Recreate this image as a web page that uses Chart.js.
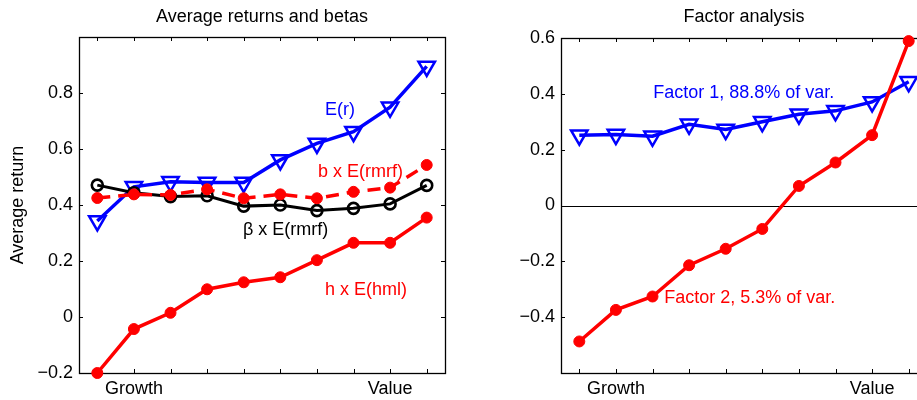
<!DOCTYPE html>
<html>
<head>
<meta charset="utf-8">
<script src="https://cdn.jsdelivr.net/npm/chart.js@4.4.1/dist/chart.umd.min.js"></script>
<style>
  html, body { margin: 0; padding: 0; background: #fff; overflow: hidden; width: 917px; height: 400px; }
  #wrapL { position: absolute; left: 0; top: 0; width: 460px; height: 400px; }
  #wrapR { position: absolute; left: 460px; top: 0; width: 480px; height: 400px; }
</style>
</head>
<body>
<div id="wrapL"><canvas id="chartLeft" width="460" height="400"></canvas></div>
<div id="wrapR"><canvas id="chartRight" width="480" height="400"></canvas></div>
<script>
// portfolios, growth -> value
const portfolios = [1, 2, 3, 4, 5, 6, 7, 8, 9, 10];
const xLabels = ['', 'Growth', '', '', '', '', '', '', 'Value', ''];

// left panel: average returns and betas
const expRet   = [0.343, 0.465, 0.483, 0.480, 0.480, 0.561, 0.620, 0.662, 0.749, 0.895];
const bRmrf    = [0.425, 0.438, 0.436, 0.456, 0.424, 0.438, 0.424, 0.447, 0.462, 0.543];
const betaRmrf = [0.471, 0.444, 0.430, 0.433, 0.396, 0.400, 0.380, 0.388, 0.404, 0.470];
const hHml     = [-0.200, -0.043, 0.015, 0.099, 0.124, 0.142, 0.203, 0.265, 0.265, 0.355];

// right panel: factor analysis
const factor1 = [0.252, 0.254, 0.248, 0.291, 0.272, 0.300, 0.327, 0.339, 0.371, 0.443];
const factor2 = [-0.487, -0.374, -0.326, -0.214, -0.155, -0.084, 0.070, 0.154, 0.252, 0.589];

const leftYTicks  = [-0.2, 0, 0.2, 0.4, 0.6, 0.8];
const rightYTicks = [-0.4, -0.2, 0, 0.2, 0.4, 0.6];

const FONT = 'Liberation Sans, Arial, Helvetica, sans-serif';
const BLUE = '#0000ff', RED = '#ff0000', BLACK = '#000000';

Chart.defaults.font.family = FONT;
Chart.defaults.font.size = 18;
Chart.defaults.color = BLACK;

function pts(values) {
    return portfolios.map((x, i) => ({ x: x, y: values[i] }));
}

function fmtTick(v) {
    if (Math.abs(v) < 1e-9) return '0';
    return (v < 0 ? '\u2212' : '') + Math.abs(v).toFixed(1);
}

// matlab style box, inward ticks on every side, text labels in data coords
const matlabAxes = {
    id: 'matlabAxes',
    beforeDatasetsDraw(chart, args, opts) {
        const { ctx, chartArea: a, scales: { x, y } } = chart;
        const t = 4;
        ctx.save();
        ctx.strokeStyle = BLACK;
        ctx.lineWidth = 1;
        ctx.beginPath();
        if (opts.zeroLine) {
            const py = Math.round(y.getPixelForValue(0)) + 0.5;
            ctx.moveTo(a.left, py); ctx.lineTo(a.right, py);
        }
        x.ticks.forEach(tk => {
            const px = Math.round(x.getPixelForValue(tk.value)) + 0.5;
            ctx.moveTo(px, a.bottom); ctx.lineTo(px, a.bottom - t);
            ctx.moveTo(px, a.top); ctx.lineTo(px, a.top + t);
        });
        y.ticks.forEach(tk => {
            const py = Math.round(y.getPixelForValue(tk.value)) + 0.5;
            ctx.moveTo(a.left, py); ctx.lineTo(a.left + t, py);
            ctx.moveTo(a.right, py); ctx.lineTo(a.right - t, py);
        });
        ctx.stroke();
        ctx.lineWidth = 1.3;
        ctx.strokeRect(Math.round(a.left) + 0.5, Math.round(a.top) + 0.5, Math.round(a.width), Math.round(a.height));
        ctx.restore();
    },
    afterDatasetsDraw(chart, args, opts) {
        const { ctx, scales: { x, y } } = chart;
        ctx.save();
        ctx.font = '18px ' + FONT;
        ctx.textAlign = 'left';
        ctx.textBaseline = 'middle';
        (opts.notes || []).forEach(n => {
            ctx.fillStyle = n.color;
            ctx.fillText(n.text, x.getPixelForValue(n.x), y.getPixelForValue(n.y));
        });
        ctx.restore();
    }
};

function panelOptions(cfg) {
    return {
        responsive: false,
        animation: false,
        events: [],
        layout: { padding: { left: 0, right: cfg.rightPad, top: 0, bottom: 0 } },
        plugins: {
            legend: { display: false },
            tooltip: { enabled: false },
            title: {
                display: true, text: cfg.title, fullSize: false, color: BLACK,
                font: { size: 18, weight: 'normal' },
                padding: { top: 6, bottom: cfg.titleGap }
            },
            matlabAxes: { notes: cfg.notes, zeroLine: cfg.zeroLine }
        },
        scales: {
            x: {
                type: 'linear', min: 0.5, max: 10.5,
                afterBuildTicks: s => { s.ticks = portfolios.map(v => ({ value: v })); },
                afterFit: s => { s.height = 27; },
                ticks: {
                    autoSkip: false, maxRotation: 0, padding: 5,
                    callback: v => xLabels[portfolios.indexOf(v)] || ''
                },
                grid: { display: false, drawTicks: false },
                border: { display: false }
            },
            y: {
                type: 'linear', min: cfg.yMin, max: cfg.yMax,
                afterBuildTicks: s => { s.ticks = cfg.yTicks.map(v => ({ value: v })); },
                afterFit: s => { s.width = cfg.yWidth; },
                ticks: { padding: 6, callback: v => fmtTick(v) },
                grid: { display: false, drawTicks: false },
                border: { display: false },
                title: cfg.yTitle ? {
                    display: true, text: cfg.yTitle, color: BLACK,
                    font: { size: 18 }, padding: { top: 7, bottom: 0 }
                } : { display: false }
            }
        }
    };
}

const lineBase = { tension: 0, borderWidth: 3.5, clip: false };
const triangles = { pointStyle: 'triangle', pointRotation: 180, pointRadius: 9.5, pointBorderWidth: 2.5, pointBackgroundColor: 'rgba(0,0,0,0)' };
const dots = { pointStyle: 'circle', pointRadius: 5.5, pointBorderWidth: 1 };

new Chart(document.getElementById('chartLeft'), {
    type: 'line',
    data: {
        datasets: [
            Object.assign({}, lineBase, dots, { label: 'h x E(hml)', data: pts(hHml), borderColor: RED, pointBackgroundColor: RED, pointBorderColor: RED }),
            Object.assign({}, lineBase, dots, { label: 'b x E(rmrf)', data: pts(bRmrf), borderColor: RED, borderDash: [13, 8], pointBackgroundColor: RED, pointBorderColor: RED }),
            Object.assign({}, lineBase, { label: '\u03b2 x E(rmrf)', data: pts(betaRmrf), borderColor: BLACK, borderWidth: 3, pointStyle: 'circle', pointRadius: 5.5, pointBorderWidth: 2.6, pointBorderColor: BLACK, pointBackgroundColor: 'rgba(0,0,0,0)' }),
            Object.assign({}, lineBase, triangles, { label: 'E(r)', data: pts(expRet), borderColor: BLUE, pointBorderColor: BLUE })
        ]
    },
    options: panelOptions({
        title: 'Average returns and betas', titleGap: 9.4,
        yMin: -0.2, yMax: 1.0, yTicks: leftYTicks, yWidth: 79, rightPad: 15,
        yTitle: 'Average return', zeroLine: false,
        notes: [
            { text: 'E(r)', x: 7.22, y: 0.74, color: BLUE },
            { text: 'b x E(rmrf)', x: 7.03, y: 0.518, color: RED },
            { text: '\u03b2 x E(rmrf)', x: 4.98, y: 0.311, color: BLACK },
            { text: 'h x E(hml)', x: 7.22, y: 0.096, color: RED }
        ]
    }),
    plugins: [matlabAxes]
});

new Chart(document.getElementById('chartRight'), {
    type: 'line',
    data: {
        datasets: [
            Object.assign({}, lineBase, dots, { label: 'Factor 2', data: pts(factor2), borderColor: RED, pointBackgroundColor: RED, pointBorderColor: RED }),
            Object.assign({}, lineBase, triangles, { label: 'Factor 1', data: pts(factor1), borderColor: BLUE, pointBorderColor: BLUE })
        ]
    },
    options: panelOptions({
        title: 'Factor analysis', titleGap: 10.4,
        yMin: -0.6, yMax: 0.6, yTicks: rightYTicks, yWidth: 101, rightPad: 13,
        yTitle: null, zeroLine: true,
        notes: [
            { text: 'Factor 1, 88.8% of var.', x: 3.02, y: 0.402, color: BLUE },
            { text: 'Factor 2, 5.3% of var.', x: 3.32, y: -0.331, color: RED }
        ]
    }),
    plugins: [matlabAxes]
});
</script>
</body>
</html>
